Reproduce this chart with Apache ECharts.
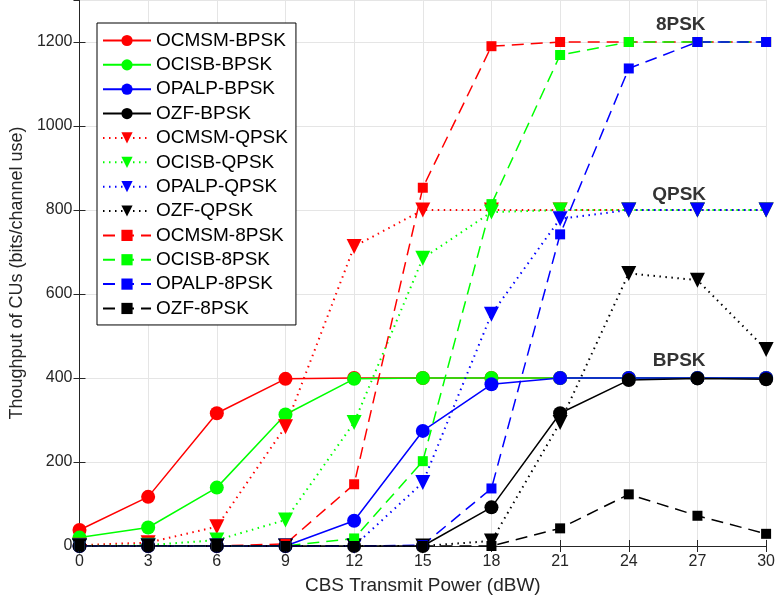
<!DOCTYPE html>
<html><head><meta charset="utf-8">
<script src="https://cdn.jsdelivr.net/npm/echarts@6/dist/echarts.min.js"></script>
<style>html,body{margin:0;padding:0;background:#fff}#c{width:778px;height:604px}</style>
</head><body><div id="c"></div>
<script>
const xs = [0, 3, 6, 9, 12, 15, 18, 21, 24, 27, 30];
const OCMSM_BPSK = [38, 117, 316, 398, 400, 400, 400, 400, 400, 400, 400];
const OCISB_BPSK = [20, 44, 139, 313, 398, 400, 400, 400, 400, 400, 400];
const OPALP_BPSK = [0, 0, 0, 0, 60, 274, 385, 400, 400, 400, 400];
const OZF_BPSK   = [0, 0, 0, 0, 0, 0, 92, 316, 395, 399, 397];
const OCMSM_QPSK = [2, 8, 46, 284, 713, 800, 800, 800, 800, 800, 800];
const OCISB_QPSK = [0, 2, 14, 62, 294, 685, 795, 800, 800, 800, 800];
const OPALP_QPSK = [0, 0, 0, 0, 0, 151, 552, 779, 800, 800, 800];
const OZF_QPSK   = [0, 0, 0, 0, 0, 0, 12, 294, 649, 633, 468];
const OCMSM_8PSK = [0, 0, 0, 5, 147, 853, 1190, 1200, 1200, 1200, 1200];
const OCISB_8PSK = [0, 0, 0, 0, 18, 202, 814, 1169, 1200, 1200, 1200];
const OPALP_8PSK = [0, 0, 0, 0, 0, 2, 137, 742, 1137, 1200, 1200];
const OZF_8PSK   = [0, 0, 0, 0, 0, 0, 0, 42, 123, 72, 29];
const names = ['OCMSM-BPSK','OCISB-BPSK','OPALP-BPSK','OZF-BPSK','OCMSM-QPSK','OCISB-QPSK','OPALP-QPSK','OZF-QPSK','OCMSM-8PSK','OCISB-8PSK','OPALP-8PSK','OZF-8PSK'];
const values = [OCMSM_BPSK,OCISB_BPSK,OPALP_BPSK,OZF_BPSK,OCMSM_QPSK,OCISB_QPSK,OPALP_QPSK,OZF_QPSK,OCMSM_8PSK,OCISB_8PSK,OPALP_8PSK,OZF_8PSK];
const annotations = [['8PSK', 26.27, 1240], ['QPSK', 26.2, 836], ['BPSK', 26.2, 440]];
const yTicks = [0, 200, 400, 600, 800, 1000, 1200];

const colors = ['#ff0000','#00ff00','#0000ff','#000000'];
const axisColor = '#262626';
const series = names.map((n, i) => {
  const group = Math.floor(i / 4);
  const c = colors[i % 4];
  const sym = group === 0 ? 'circle' : group === 1 ? 'triangle' : 'rect';
  const size = group === 0 ? 14 : group === 1 ? 15 : 10;
  const ltype = group === 0 ? 'solid' : group === 1 ? [1.5, 4.5] : [12, 7];
  return {
    name: n, type: 'line',
    data: xs.map((x, k) => [x, values[i][k]]),
    symbol: sym, symbolSize: size, symbolRotate: group === 1 ? 180 : 0,
    showAllSymbol: true,
    itemStyle: { color: c, borderWidth: 0 },
    lineStyle: { color: c, width: group === 1 ? 2 : 1.5, type: ltype },
    emphasis: { disabled: true },
    z: 2
  };
});
series.push({
  name: 'annotations', type: 'scatter', symbolSize: 0,
  data: annotations.map(a => ({ name: a[0], value: [a[1], a[2]] })),
  label: { show: true, position: 'inside', formatter: p => p.name, fontSize: 19, fontWeight: 'bold', color: '#000', fontFamily: 'Liberation Sans, Arial, sans-serif' },
  z: 5, silent: true
});

const chart = echarts.init(document.getElementById('c'), null, { renderer: 'canvas' });
chart.setOption({
  animation: false,
  backgroundColor: '#fff',
  textStyle: { fontFamily: 'Liberation Sans, Arial, sans-serif' },
  grid: { left: 78, right: 8, top: 0, bottom: 58, containLabel: false },
  legend: {
    data: names, orient: 'vertical', left: 97, top: 23,
    backgroundColor: '#fff', borderColor: '#000', borderWidth: 1,
    padding: [8, 8, 7, 5],
    itemWidth: 48, itemHeight: 14, itemGap: 5.36,
    textStyle: { fontSize: 19, color: '#000', lineHeight: 18, fontFamily: 'Liberation Sans, Arial, sans-serif' },
    selectedMode: false
  },
  xAxis: [{
    type: 'value', min: 0, max: 30, interval: 3,
    name: 'CBS Transmit Power (dBW)', nameLocation: 'middle', nameGap: 30,
    nameTextStyle: { fontSize: 19, color: axisColor },
    axisLine: { lineStyle: { color: axisColor, width: 1 } },
    axisTick: { inside: true, length: 6, lineStyle: { color: axisColor } },
    axisLabel: { fontSize: 16, color: axisColor, margin: 8 },
    splitLine: { show: true, lineStyle: { color: '#e5e5e5', width: 1 } }
  }, {
    type: 'value', min: 0, max: 30, interval: 3, position: 'top',
    axisLine: { show: true, lineStyle: { color: axisColor } },
    axisTick: { inside: true, length: 6, lineStyle: { color: axisColor } },
    axisLabel: { show: false }, splitLine: { show: false }
  }],
  yAxis: [{
    type: 'value', min: 0, max: 1300, interval: 200,
    name: 'Thoughput of CUs (bits/channel use)', nameLocation: 'middle', nameGap: 44,
    nameTextStyle: { fontSize: 18, color: axisColor },
    axisLine: { show: true, lineStyle: { color: axisColor, width: 1 } },
    axisTick: { show: true, inside: true, length: 6, lineStyle: { color: axisColor } },
    axisLabel: { fontSize: 16, color: axisColor, margin: 7, showMaxLabel: false,
      formatter: v => yTicks.includes(v) ? String(v) : '' },
    splitLine: { show: true, lineStyle: { color: '#e5e5e5', width: 1 } }
  }, {
    type: 'value', min: 0, max: 1300, interval: 200, position: 'right',
    axisLine: { show: true, lineStyle: { color: axisColor } },
    axisTick: { show: true, inside: true, length: 6, lineStyle: { color: axisColor } },
    axisLabel: { show: false }, splitLine: { show: false }
  }],
  series: series
});
</script>
</body></html>
